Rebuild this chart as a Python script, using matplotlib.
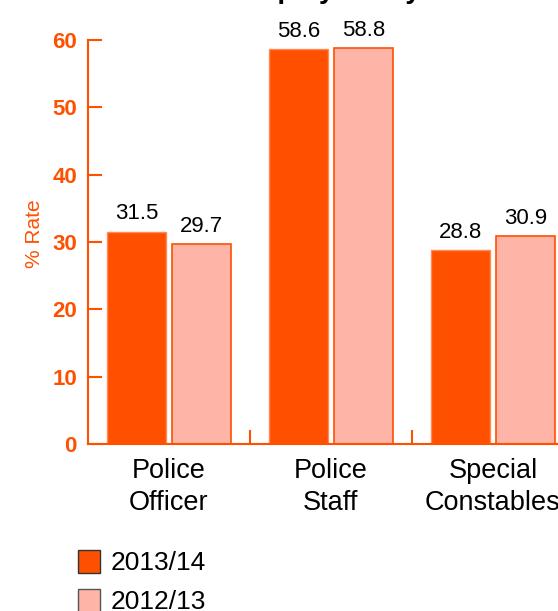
import numpy as np
import matplotlib
matplotlib.use("Agg")
import matplotlib.pyplot as plt
from matplotlib.patches import Patch

categories = ["Police\nOfficer", "Police\nStaff", "Special\nConstables"]
series_names = ["2013/14", "2012/13"]
rate_2013_14 = [31.5, 58.6, 28.8]
rate_2012_13 = [29.7, 58.8, 30.9]
y_ticks = [0, 10, 20, 30, 40, 50, 60]

ORANGE = "#FF5000"
PINK = "#FFB4A8"

plt.rcParams["font.family"] = ["Liberation Sans", "DejaVu Sans"]

W, H = 558, 611
fig = plt.figure(figsize=(W / 100, H / 100), dpi=100)
ax = fig.add_axes([88 / W, (H - 444) / H, 486 / W, 404 / H])

x = np.arange(len(categories))
width = 0.36
off = 0.2
ax.bar(x - off, rate_2013_14, width, color=ORANGE, edgecolor="#FF8A5C", linewidth=1)
ax.bar(x + off, rate_2012_13, width, color=PINK, edgecolor=ORANGE, linewidth=1.2)

for xi, v in zip(x - off, rate_2013_14):
    ax.text(xi, v + 1.1, f"{v:.1f}", ha="center", va="bottom", fontsize=16, color="black")
for xi, v in zip(x + off, rate_2012_13):
    ax.text(xi, v + 1.1, f"{v:.1f}", ha="center", va="bottom", fontsize=16, color="black")

ax.set_xlim(-0.5, 2.5)
ax.set_ylim(0, 60)
ax.set_yticks(y_ticks)
ax.set_yticklabels([str(t) for t in y_ticks], fontsize=16, fontweight="bold", color=ORANGE)
ax.tick_params(axis="y", direction="in", length=10, width=1.5, color=ORANGE, pad=8)
ax.set_xticks(x)
ax.set_xticklabels(categories, fontsize=19.5, color="black", linespacing=1.3)
ax.tick_params(axis="x", which="major", length=0, pad=10)
ax.set_xticks([0.5, 1.5], minor=True)
ax.tick_params(axis="x", which="minor", direction="in", length=10, width=1.5, color=ORANGE)

for side in ["top", "right"]:
    ax.spines[side].set_visible(False)
for side in ["left", "bottom"]:
    ax.spines[side].set_color(ORANGE)
    ax.spines[side].set_linewidth(1.5)

ax.set_ylabel("% Rate", fontsize=15, color=ORANGE)
ax.yaxis.set_label_coords(-44 / 486, 0.52)

# title is mostly clipped at the top of the image
fig.text(134 / W, (H + 2) / H, "Female employees by role", fontsize=20,
         fontweight="bold", ha="left", va="baseline")

handles = [Patch(facecolor=ORANGE, edgecolor="#333333", linewidth=1),
           Patch(facecolor=PINK, edgecolor="#555555", linewidth=1)]
fig.legend(handles, series_names, loc="upper left", bbox_to_anchor=(67 / W, (H - 539) / H),
           frameon=False, fontsize=19, handlelength=0.85, handleheight=1.0,
           handletextpad=0.4, labelspacing=0.5, borderaxespad=0)

fig.savefig("out.png", dpi=100)
